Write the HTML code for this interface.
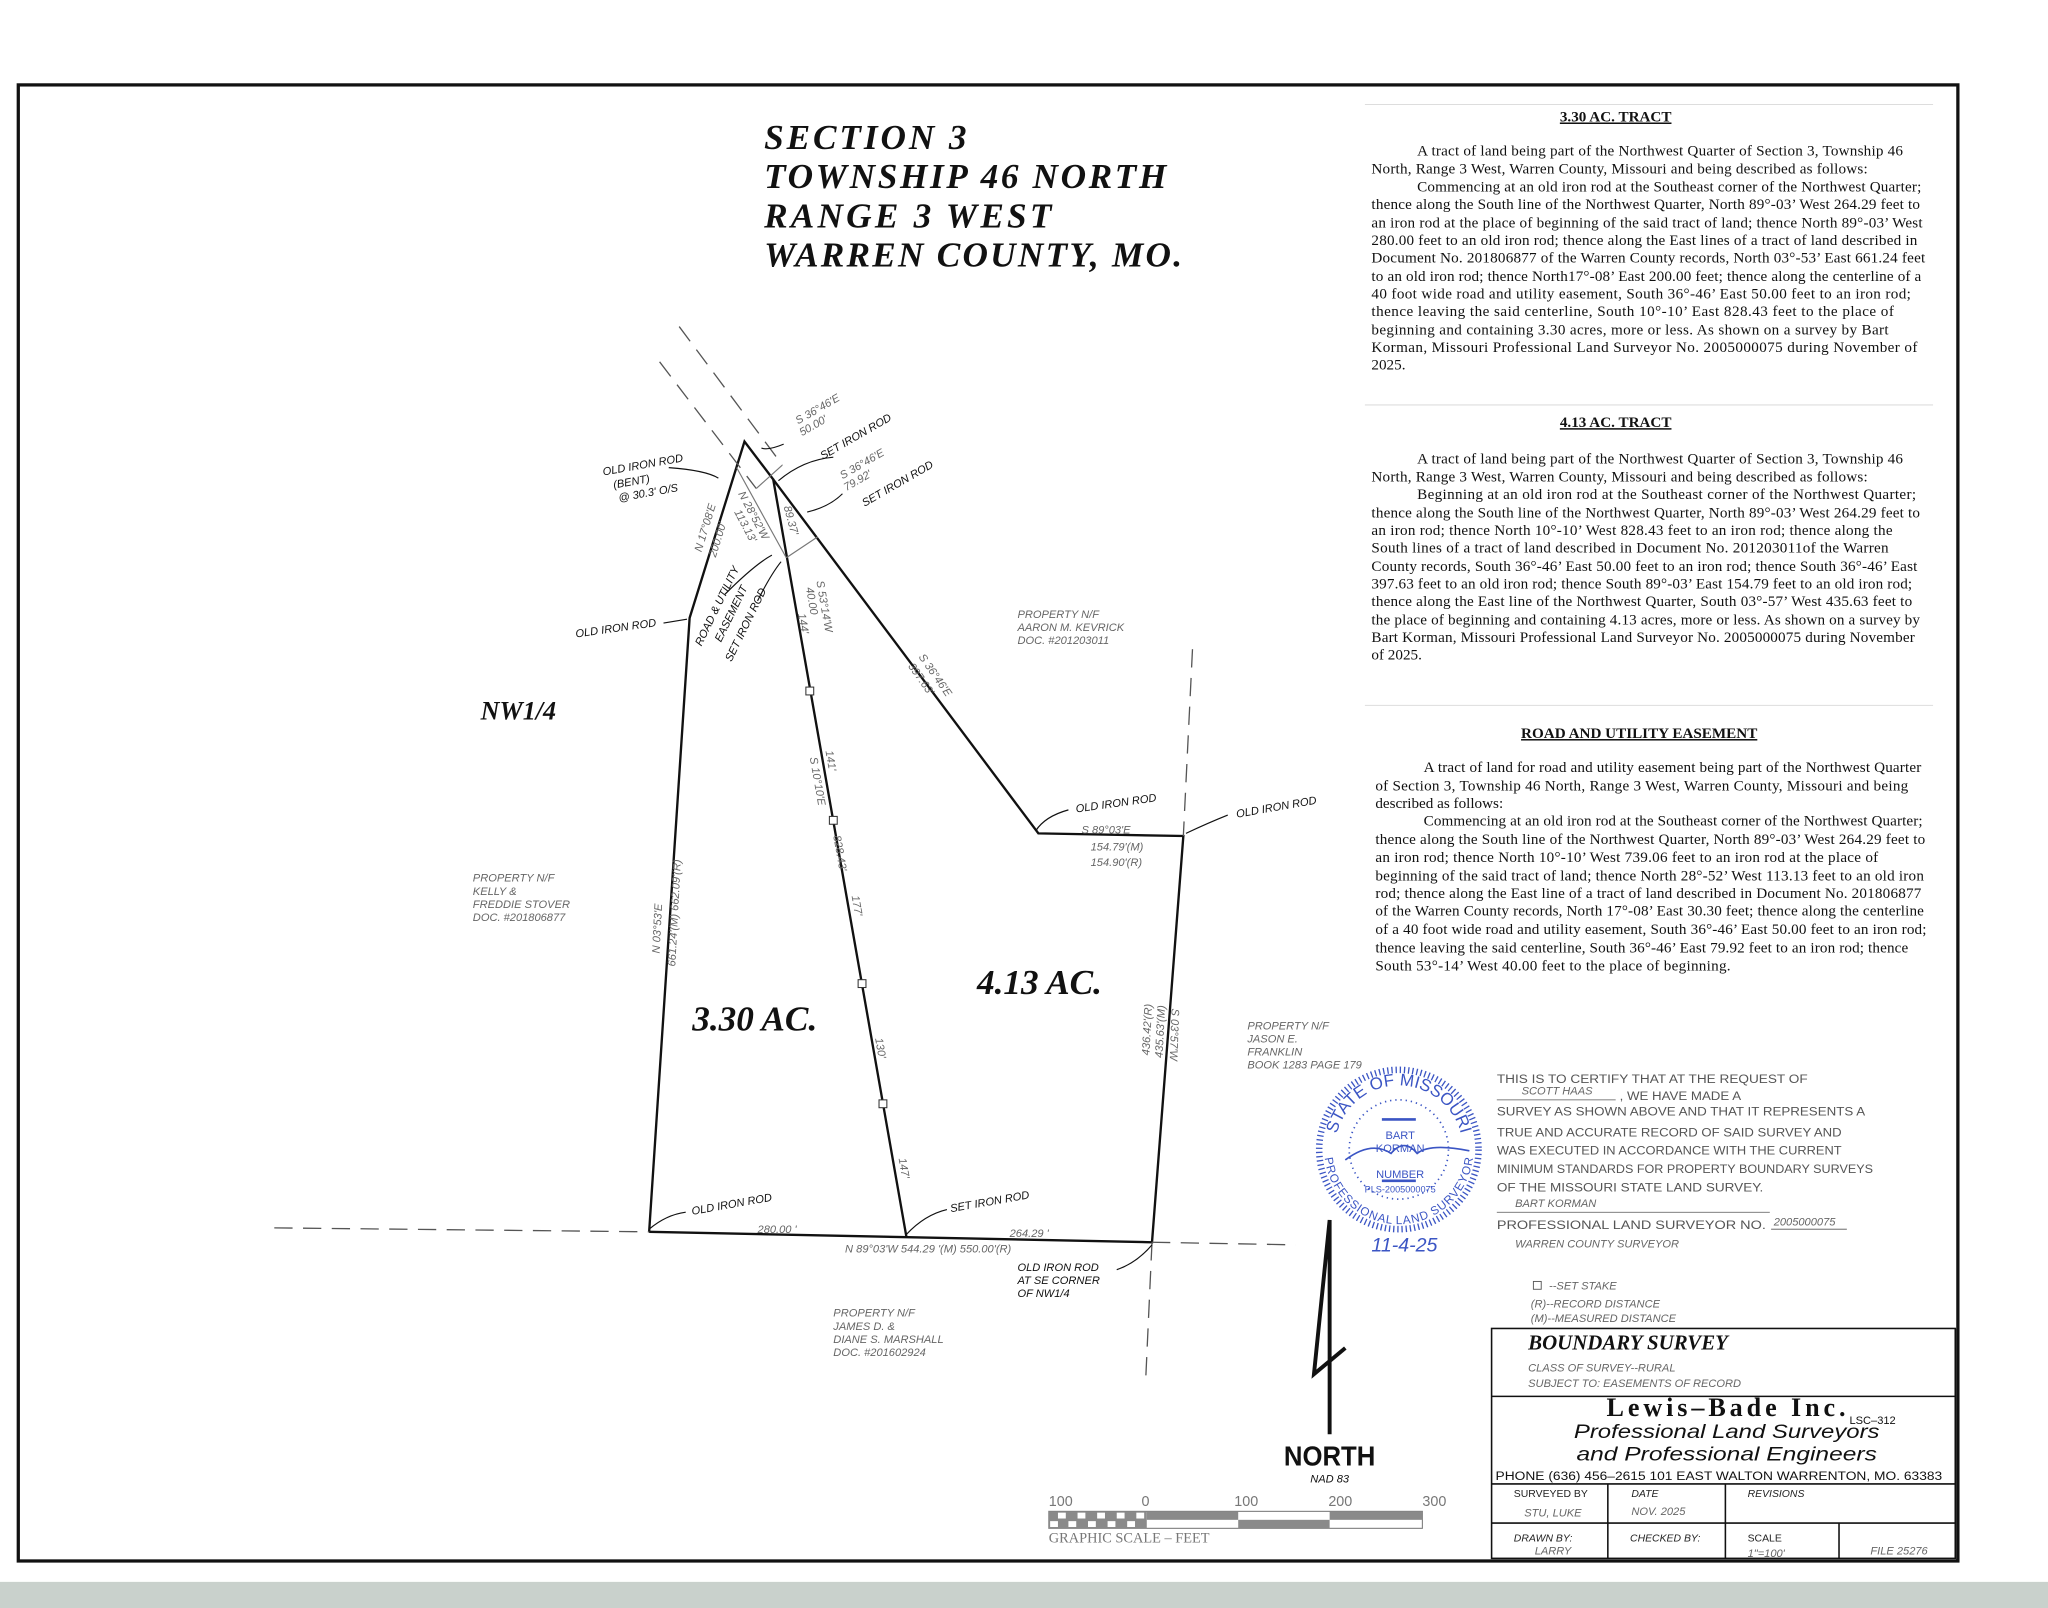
<!DOCTYPE html>
<html><head><meta charset="utf-8"><style>
html,body{margin:0;padding:0;background:#fff;}
svg{display:block;}
.b{font-family:"Liberation Serif",serif;font-size:11.6px;fill:#111;}
.h{font-family:"Liberation Serif",serif;font-size:11.6px;font-weight:bold;fill:#111;text-decoration:underline;}
.l{font-family:"Liberation Sans",sans-serif;font-style:italic;font-size:8.5px;fill:#111;}
.g{font-family:"Liberation Sans",sans-serif;font-style:italic;font-size:8.5px;fill:#666;}
.c{font-family:"Liberation Sans",sans-serif;font-size:9.5px;fill:#555;}
.t{font-family:"Liberation Serif",serif;font-style:italic;font-weight:bold;fill:#111;}
</style></head><body>
<svg width="2048" height="1608" viewBox="0 0 1568 1231" preserveAspectRatio="none" xmlns="http://www.w3.org/2000/svg">
<rect x="0" y="0" width="1568" height="1231" fill="#fff"/>
<rect x="0" y="1211" width="1568" height="20" fill="#c9d1cc"/>
<rect x="14" y="65" width="1485" height="1130" fill="none" stroke="#111" stroke-width="2.5"/>

<text class="t" x="585" y="114" font-size="27" textLength="155" lengthAdjust="spacing">SECTION 3</text>
<text class="t" x="585" y="144" font-size="27" textLength="308" lengthAdjust="spacing">TOWNSHIP 46 NORTH</text>
<text class="t" x="585" y="174" font-size="27" textLength="220" lengthAdjust="spacing">RANGE 3 WEST</text>
<text class="t" x="585" y="204" font-size="27" textLength="320" lengthAdjust="spacing">WARREN COUNTY, MO.</text>

<g>
<line x1="1045" y1="80" x2="1480" y2="80" stroke="#ddd" stroke-width="0.8"/>
<text class="h" x="1237" y="93" text-anchor="middle">3.30 AC. TRACT</text>
<text class="b" x="1085" y="119" textLength="372">A tract of land being part of the Northwest Quarter of Section 3, Township 46</text>
<text class="b" x="1050" y="133" textLength="380">North, Range 3 West, Warren County, Missouri and being described as follows:</text>
<text class="b" x="1085" y="146.5" textLength="386">Commencing at an old iron rod at the Southeast corner of the Northwest Quarter;</text>
<text class="b" x="1050" y="160" textLength="420">thence along the South line of the Northwest Quarter, North 89°-03’ West 264.29 feet to</text>
<text class="b" x="1050" y="174" textLength="422">an iron rod at the place of beginning of the said tract of land; thence  North 89°-03’ West</text>
<text class="b" x="1050" y="187.5" textLength="418">280.00 feet to an old iron rod; thence along the East lines of a tract of land described in</text>
<text class="b" x="1050" y="201" textLength="424">Document No. 201806877 of the Warren County records, North 03°-53’ East 661.24 feet</text>
<text class="b" x="1050" y="215" textLength="421">to an old iron rod; thence North17°-08’ East 200.00 feet; thence along the centerline of a</text>
<text class="b" x="1050" y="228.5" textLength="413">40 foot wide road and utility easement, South 36°-46’ East 50.00 feet to an iron rod;</text>
<text class="b" x="1050" y="242" textLength="400">thence leaving the said centerline, South 10°-10’ East 828.43 feet to the place of</text>
<text class="b" x="1050" y="256" textLength="396">beginning and containing 3.30 acres, more or less. As shown on a survey by Bart</text>
<text class="b" x="1050" y="269.5" textLength="418">Korman, Missouri Professional Land Surveyor No. 2005000075 during November of</text>
<text class="b" x="1050" y="283">2025.</text>
<line x1="1045" y1="310" x2="1480" y2="310" stroke="#ddd" stroke-width="0.8"/>

<text class="h" x="1237" y="327" text-anchor="middle">4.13 AC. TRACT</text>
<text class="b" x="1085" y="355" textLength="372">A tract of land being part of the Northwest Quarter of Section 3, Township 46</text>
<text class="b" x="1050" y="368.5" textLength="380">North, Range 3 West, Warren County, Missouri and being described as follows:</text>
<text class="b" x="1085" y="382" textLength="382">Beginning at an old iron rod at the Southeast corner of the Northwest Quarter;</text>
<text class="b" x="1050" y="396" textLength="420">thence along the South line of the Northwest Quarter, North 89°-03’ West 264.29 feet to</text>
<text class="b" x="1050" y="409.5" textLength="399">an iron rod; thence  North 10°-10’ West 828.43 feet to an iron rod; thence along the</text>
<text class="b" x="1050" y="423" textLength="396">South lines of a tract of land described in Document No. 201203011of the Warren</text>
<text class="b" x="1050" y="437" textLength="418">County records, South 36°-46’ East 50.00 feet to an iron rod; thence South 36°-46’ East</text>
<text class="b" x="1050" y="450.5" textLength="414">397.63 feet to an old iron rod; thence South 89°-03’ East 154.79 feet to an old iron rod;</text>
<text class="b" x="1050" y="464" textLength="414">thence along the East line of the Northwest Quarter, South 03°-57’ West 435.63 feet to</text>
<text class="b" x="1050" y="478" textLength="420">the place of beginning and containing 4.13 acres, more or less. As shown on a survey by</text>
<text class="b" x="1050" y="491.5" textLength="416">Bart Korman, Missouri Professional Land Surveyor No. 2005000075 during November</text>
<text class="b" x="1050" y="505">of 2025.</text>
<line x1="1045" y1="540" x2="1480" y2="540" stroke="#ddd" stroke-width="0.8"/>

<text class="h" x="1255" y="565" text-anchor="middle">ROAD AND UTILITY EASEMENT</text>
<text class="b" x="1090" y="591" textLength="381">A tract of land for road and utility easement being part of the Northwest Quarter</text>
<text class="b" x="1053" y="605" textLength="408">of Section 3, Township 46 North, Range 3 West, Warren County, Missouri and being</text>
<text class="b" x="1053" y="618.5">described as follows:</text>
<text class="b" x="1090" y="632" textLength="382">Commencing at an old iron rod at the Southeast corner of the Northwest Quarter;</text>
<text class="b" x="1053" y="646" textLength="421">thence along the South line of the Northwest Quarter, North 89°-03’ West 264.29 feet to</text>
<text class="b" x="1053" y="660" textLength="385">an iron rod; thence  North 10°-10’ West 739.06 feet to an iron rod at the place of</text>
<text class="b" x="1053" y="674" textLength="420">beginning of the said tract of land; thence North 28°-52’ West 113.13 feet to an old iron</text>
<text class="b" x="1053" y="687.5" textLength="418">rod; thence along the East line of a tract of land described in Document No. 201806877</text>
<text class="b" x="1053" y="701" textLength="420">of the Warren County records, North 17°-08’ East 30.30 feet; thence along the centerline</text>
<text class="b" x="1053" y="715" textLength="422">of a 40 foot wide road and utility easement, South 36°-46’ East 50.00 feet to an iron rod;</text>
<text class="b" x="1053" y="729" textLength="408">thence leaving the said centerline, South 36°-46’ East 79.92 feet to an iron rod; thence</text>
<text class="b" x="1053" y="743" textLength="272">South 53°-14’ West 40.00 feet to the place of beginning.</text>
</g>

<g fill="none" stroke="#111" stroke-width="1.8">
<polyline points="497,943 528,473 570,338 592,367 694,947"/>
<polyline points="592,367 795,638 906,640 882,951 497,943"/>
</g>
<g fill="none" stroke="#555" stroke-width="1" stroke-dasharray="14,8">
<line x1="210" y1="940" x2="497" y2="943"/>
<line x1="882" y1="951" x2="992" y2="953"/>
<line x1="913" y1="497" x2="906" y2="640"/>
<line x1="882" y1="951" x2="877" y2="1060"/>
<line x1="520" y1="250" x2="599" y2="356"/>
<line x1="505" y1="277" x2="579" y2="374"/>
</g>
<g fill="none" stroke="#777" stroke-width="0.9">
<line x1="599" y1="356" x2="579" y2="374"/>
<line x1="564" y1="358" x2="602" y2="427"/>
<line x1="602" y1="427" x2="626" y2="411"/>
</g>
<g fill="#fff" stroke="#333" stroke-width="0.8">
<rect x="617" y="526" width="6" height="6"/>
<rect x="635" y="625" width="6" height="6"/>
<rect x="657" y="750" width="6" height="6"/>
<rect x="673" y="842" width="6" height="6"/>
</g>
<g fill="none" stroke="#111" stroke-width="0.9">
<path d="M512,358 Q540,360 550,366"/>
<path d="M508,477 L526,474"/>
<path d="M638,350 Q615,352 596,368"/>
<path d="M645,378 Q635,388 618,392"/>
<path d="M591,425 Q578,432 555,455"/>
<path d="M598,430 Q590,440 580,460"/>
<path d="M793,636 Q800,625 818,620"/>
<path d="M908,638 Q925,630 940,624"/>
<path d="M882,953 Q870,967 855,972"/>
<path d="M497,941 Q510,930 525,928"/>
<path d="M694,945 Q708,930 725,926"/>
<path d="M600,340 Q588,345 583,343"/>
</g>

<g transform="translate(462,364) rotate(-10)"><text class="l">OLD IRON ROD</text></g>
<g transform="translate(470,374) rotate(-10)"><text class="l">(BENT)</text></g>
<g transform="translate(474,384) rotate(-10)"><text class="l">@ 30.3' O/S</text></g>
<g transform="translate(441,488) rotate(-8)"><text class="l">OLD IRON ROD</text></g>
<g transform="translate(537,423) rotate(-73)"><text class="g">N 17°08'E</text></g>
<g transform="translate(548,427) rotate(-73)"><text class="g">200.00'</text></g>
<g transform="translate(565,378) rotate(62)"><text class="g">N 28°52'W</text></g>
<g transform="translate(562,392) rotate(62)"><text class="g">113.13'</text></g>
<g transform="translate(600,388) rotate(75)"><text class="g">89.37'</text></g>
<g transform="translate(537,495) rotate(-64)"><text class="l">ROAD &amp; UTILITY</text></g>
<g transform="translate(552,492) rotate(-64)"><text class="l">EASEMENT</text></g>
<g transform="translate(560,507) rotate(-64)"><text class="l">SET IRON ROD</text></g>
<g transform="translate(611,325) rotate(-30)"><text class="g">S 36°46'E</text></g>
<g transform="translate(614,334) rotate(-30)"><text class="g">50.00'</text></g>
<g transform="translate(630,352) rotate(-30)"><text class="l">SET IRON ROD</text></g>
<g transform="translate(645,367) rotate(-30)"><text class="g">S 36°46'E</text></g>
<g transform="translate(648,376) rotate(-30)"><text class="g">79.92'</text></g>
<g transform="translate(662,388) rotate(-30)"><text class="l">SET IRON ROD</text></g>
<g transform="translate(625,445) rotate(80)"><text class="g">S 53°14'W</text></g>
<g transform="translate(617,450) rotate(80)"><text class="g">40.00</text></g>
<g transform="translate(611,470) rotate(80)"><text class="g">144'</text></g>
<g transform="translate(703,503) rotate(55)"><text class="g">S 36°46'E</text></g>
<g transform="translate(695,510) rotate(55)"><text class="g">397.63'</text></g>
<g transform="translate(632,575) rotate(80)"><text class="g">141'</text></g>
<g transform="translate(620,580) rotate(80)"><text class="g">S 10°10'E</text></g>
<g transform="translate(638,640) rotate(80)"><text class="g">828.43'</text></g>
<g transform="translate(652,686) rotate(80)"><text class="g">177'</text></g>
<g transform="translate(670,795) rotate(80)"><text class="g">130'</text></g>
<g transform="translate(688,887) rotate(80)"><text class="g">147'</text></g>
<g transform="translate(505,730) rotate(-87)"><text class="g">N 03°53'E</text></g>
<g transform="translate(517,740) rotate(-87)"><text class="g">661.24'(M) 662.09'(R)</text></g>
<g transform="translate(880,808) rotate(-87)"><text class="g">436.42'(R)</text></g>
<g transform="translate(890,810) rotate(-87)"><text class="g">435.63'(M)</text></g>
<g transform="translate(897,772) rotate(92)"><text class="g">S 03°57'W</text></g>
<text class="g" x="779" y="473">PROPERTY N/F</text>
<text class="g" x="779" y="483">AARON M. KEVRICK</text>
<text class="g" x="779" y="493">DOC. #201203011</text>
<text class="g" x="362" y="675">PROPERTY N/F</text>
<text class="g" x="362" y="685">KELLY &amp;</text>
<text class="g" x="362" y="695">FREDDIE STOVER</text>
<text class="g" x="362" y="705">DOC. #201806877</text>
<text class="g" x="955" y="788">PROPERTY N/F</text>
<text class="g" x="955" y="798">JASON E.</text>
<text class="g" x="955" y="808">FRANKLIN</text>
<text class="g" x="955" y="818">BOOK 1283 PAGE 179</text>
<text class="g" x="638" y="1008">PROPERTY N/F</text>
<text class="g" x="638" y="1018">JAMES D. &amp;</text>
<text class="g" x="638" y="1028">DIANE S. MARSHALL</text>
<text class="g" x="638" y="1038">DOC. #201602924</text>
<text class="t" x="368" y="551" font-size="20">NW1/4</text>
<text class="t" x="530" y="789" font-size="27">3.30 AC.</text>
<text class="t" x="748" y="761" font-size="27">4.13 AC.</text>
<g transform="translate(824,622) rotate(-8)"><text class="l">OLD IRON ROD</text></g>
<text class="g" x="828" y="638">S 89°03'E</text>
<text class="g" x="835" y="651">154.79'(M)</text>
<text class="g" x="835" y="663">154.90'(R)</text>
<g transform="translate(947,626) rotate(-10)"><text class="l">OLD IRON ROD</text></g>
<g transform="translate(530,930) rotate(-10)"><text class="l">OLD IRON ROD</text></g>
<g transform="translate(728,928) rotate(-10)"><text class="l">SET IRON ROD</text></g>
<text class="g" x="580" y="944">280.00 '</text>
<text class="g" x="773" y="947">264.29 '</text>
<text class="g" x="647" y="959">N 89°03'W  544.29 '(M) 550.00'(R)</text>
<text class="l" x="779" y="973">OLD IRON ROD</text>
<text class="l" x="779" y="983">AT SE CORNER</text>
<text class="l" x="779" y="993">OF NW1/4</text>

<text class="c" x="1146" y="829" textLength="238" lengthAdjust="spacingAndGlyphs">THIS IS TO CERTIFY THAT AT THE REQUEST OF</text>
<text class="g" x="1165" y="838">SCOTT HAAS</text>
<line x1="1146" y1="842" x2="1237" y2="842" stroke="#555" stroke-width="0.6"/>
<text class="c" x="1240" y="842" textLength="93" lengthAdjust="spacingAndGlyphs">, WE HAVE MADE A</text>
<text class="c" x="1146" y="854" textLength="282" lengthAdjust="spacingAndGlyphs">SURVEY AS SHOWN ABOVE AND THAT IT REPRESENTS A</text>
<text class="c" x="1146" y="870" textLength="264" lengthAdjust="spacingAndGlyphs">TRUE AND ACCURATE RECORD OF SAID SURVEY AND</text>
<text class="c" x="1146" y="884" textLength="264" lengthAdjust="spacingAndGlyphs">WAS EXECUTED IN ACCORDANCE WITH THE CURRENT</text>
<text class="c" x="1146" y="898" textLength="288" lengthAdjust="spacingAndGlyphs">MINIMUM STANDARDS FOR PROPERTY BOUNDARY SURVEYS</text>
<text class="c" x="1146" y="912" textLength="204" lengthAdjust="spacingAndGlyphs">OF THE MISSOURI STATE LAND SURVEY.</text>
<text class="g" x="1160" y="924">BART KORMAN</text>
<line x1="1146" y1="928" x2="1355" y2="928" stroke="#555" stroke-width="0.6"/>
<text class="c" x="1146" y="941" font-size="11" textLength="206" lengthAdjust="spacingAndGlyphs">PROFESSIONAL LAND SURVEYOR NO.</text>
<text class="g" x="1358" y="938">2005000075</text>
<line x1="1356" y1="941" x2="1414" y2="941" stroke="#555" stroke-width="0.6"/>
<text class="g" x="1160" y="955" font-size="7.5">WARREN COUNTY SURVEYOR</text>
<rect x="1174" y="981" width="6" height="6" fill="none" stroke="#555" stroke-width="0.7"/>
<text class="g" x="1186" y="987">--SET STAKE</text>
<text class="g" x="1172" y="1001">(R)--RECORD DISTANCE</text>
<text class="g" x="1172" y="1012">(M)--MEASURED DISTANCE</text>

<g fill="none" stroke="#3b55c4">
<circle cx="1071" cy="880" r="61" stroke-width="5" stroke-dasharray="1,2.2"/>
<circle cx="1071" cy="880" r="38" stroke-width="1.3" stroke-dasharray="1,3"/>
<path d="M1030,888 q20,-15 35,-5 q10,-12 20,0 q10,-8 40,-2" stroke-width="1.3"/>
<path d="M1058,857 h26 M1058,904 h26" stroke-width="2"/>
</g>
<text x="1050" y="958" font-family="Liberation Sans,sans-serif" font-style="italic" font-size="15" fill="#3b55c4">11-4-25</text>
<defs>
<path id="arcT" d="M1022,880 A49,49 0 0 1 1120,880"/>
<path id="arcB" d="M1020,880 A51,51 0 0 0 1122,880"/>
</defs>
<text font-family="Liberation Sans,sans-serif" font-size="13" fill="#3b55c4"><textPath href="#arcT" startOffset="50%" text-anchor="middle">STATE OF MISSOURI</textPath></text>
<text font-family="Liberation Sans,sans-serif" font-size="9" fill="#3b55c4"><textPath href="#arcB" startOffset="50%" text-anchor="middle" dominant-baseline="hanging">PROFESSIONAL LAND SURVEYOR</textPath></text>
<g font-family="Liberation Sans,sans-serif" fill="#3b55c4" text-anchor="middle">
<text x="1072" y="872" font-size="8.5">BART</text>
<text x="1072" y="882" font-size="8.5">KORMAN</text>
<text x="1072" y="902" font-size="8.5">NUMBER</text>
<text x="1072" y="913" font-size="7">PLS-2005000075</text>
</g>

<path d="M1018,1098 L1018,934 L1006,1052 L1030,1032" fill="none" stroke="#111" stroke-width="3"/>
<text x="1018" y="1122" text-anchor="middle" font-family="Liberation Sans,sans-serif" font-weight="bold" font-size="21" fill="#111" textLength="70" lengthAdjust="spacingAndGlyphs">NORTH</text>
<text class="l" x="1018" y="1135" text-anchor="middle" font-size="7.5">NAD 83</text>

<g font-family="Liberation Sans,sans-serif" font-size="11" fill="#777">
<text x="803" y="1153">100</text><text x="874" y="1153">0</text>
<text x="945" y="1153">100</text><text x="1017" y="1153">200</text><text x="1089" y="1153">300</text>
</g>
<rect x="803" y="1157" width="286" height="13" fill="#fff" stroke="#777" stroke-width="0.8"/>
<rect x="878" y="1157" width="70" height="6.5" fill="#8a8a8a"/>
<rect x="948" y="1163.5" width="70" height="6.5" fill="#8a8a8a"/>
<rect x="1018" y="1157" width="71" height="6.5" fill="#8a8a8a"/>
<rect x="803" y="1157" width="75" height="13" fill="#8a8a8a"/>
<g fill="#fff">
<rect x="810" y="1158" width="6" height="4.5"/><rect x="825" y="1158" width="6" height="4.5"/><rect x="840" y="1158" width="6" height="4.5"/><rect x="855" y="1158" width="6" height="4.5"/><rect x="870" y="1158" width="6" height="4.5"/>
<rect x="804" y="1164.5" width="6" height="4.5"/><rect x="818" y="1164.5" width="6" height="4.5"/><rect x="833" y="1164.5" width="6" height="4.5"/><rect x="848" y="1164.5" width="6" height="4.5"/><rect x="863" y="1164.5" width="6" height="4.5"/>
</g>
<text x="803" y="1181" font-family="Liberation Serif,serif" font-size="11" fill="#777">GRAPHIC SCALE  –  FEET</text>

<g fill="none" stroke="#111" stroke-width="1.2">
<rect x="1142" y="1017" width="355" height="176"/>
<line x1="1142" y1="1069" x2="1497" y2="1069"/>
<line x1="1142" y1="1136" x2="1497" y2="1136"/>
<line x1="1142" y1="1166" x2="1497" y2="1166"/>
<line x1="1231" y1="1136" x2="1231" y2="1193"/>
<line x1="1321" y1="1136" x2="1321" y2="1193"/>
<line x1="1408" y1="1166" x2="1408" y2="1193"/>
</g>
<line x1="1499" y1="1017" x2="1499" y2="1195" stroke="#111" stroke-width="2.5"/>
<text class="t" x="1170" y="1033" font-size="16">BOUNDARY SURVEY</text>
<text class="g" x="1170" y="1050" font-size="7.5">CLASS OF SURVEY--RURAL</text>
<text class="g" x="1170" y="1062" font-size="7.5">SUBJECT TO: EASEMENTS OF RECORD</text>
<text x="1230" y="1084" font-family="Liberation Serif,serif" font-weight="bold" font-size="20" fill="#111" textLength="183" lengthAdjust="spacing">Lewis–Bade Inc.</text>
<text x="1416" y="1090" font-family="Liberation Sans,sans-serif" font-size="8.5" fill="#111">LSC–312</text>
<text x="1322" y="1101" text-anchor="middle" font-family="Liberation Sans,sans-serif" font-style="italic" font-size="15" fill="#111" textLength="234" lengthAdjust="spacingAndGlyphs">Professional Land Surveyors</text>
<text x="1322" y="1118" text-anchor="middle" font-family="Liberation Sans,sans-serif" font-style="italic" font-size="15" fill="#111" textLength="230" lengthAdjust="spacingAndGlyphs">and Professional Engineers</text>
<text x="1145" y="1133" font-family="Liberation Sans,sans-serif" font-size="9" fill="#111" textLength="342" lengthAdjust="spacingAndGlyphs">PHONE (636) 456–2615  101 EAST WALTON  WARRENTON, MO. 63383</text>
<g font-family="Liberation Sans,sans-serif" font-size="8" fill="#222">
<text x="1159" y="1146">SURVEYED BY</text>
<text x="1249" y="1146" font-style="italic">DATE</text>
<text x="1338" y="1146" font-style="italic">REVISIONS</text>
<text x="1159" y="1180" font-style="italic">DRAWN BY:</text>
<text x="1248" y="1180" font-style="italic">CHECKED BY:</text>
<text x="1338" y="1180">SCALE</text>
</g>
<text class="g" x="1167" y="1161" font-size="8">STU, LUKE</text>
<text class="g" x="1249" y="1160" font-size="8">NOV. 2025</text>
<text class="g" x="1175" y="1190" font-size="8">LARRY</text>
<text class="g" x="1338" y="1192" font-size="8">1"=100'</text>
<text class="g" x="1432" y="1190" font-size="8">FILE 25276</text>
</svg>
</body></html>
